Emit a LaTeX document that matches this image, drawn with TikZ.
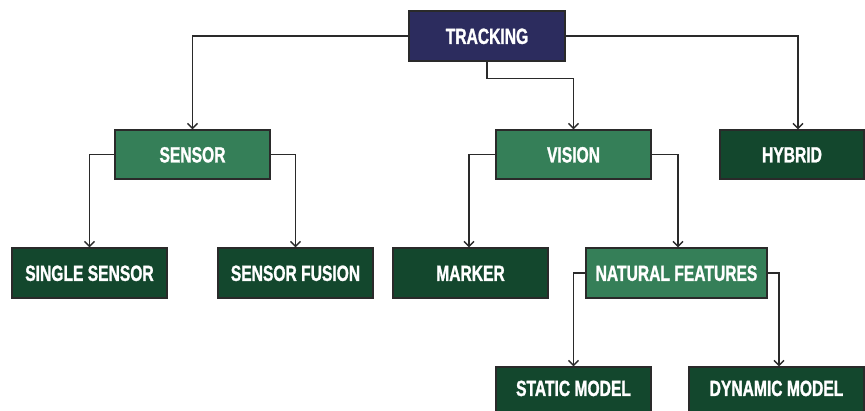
\documentclass[tikz,border=0pt]{standalone}
\usepackage{fontspec}
\newfontfamily\labelfont{Liberation Sans}[FakeStretch=0.71, BoldFeatures={FakeBold=1.2}]
\usetikzlibrary{arrows.meta}
\definecolor{navy}{HTML}{2C2C5E}
\definecolor{midgreen}{HTML}{357F58}
\definecolor{darkgreen}{HTML}{13472D}
\definecolor{edgegray}{HTML}{2A2A2A}
\begin{document}
\begin{tikzpicture}[x=1pt,y=-1pt,
  box/.style={draw=edgegray, line width=1.4pt, text=white, inner sep=0pt,
    text height=15.8pt, text depth=0pt,
    font=\labelfont\bfseries\fontsize{22}{24}\selectfont, minimum height=49pt},
  topbox/.style={box, fill=navy},
  midbox/.style={box, fill=midgreen},
  leafbox/.style={box, fill=darkgreen},
  arr/.style={draw=edgegray, line width=1.5pt, -{Straight Barb[length=5pt,width=10pt,line width=1.3pt]}}]
\useasboundingbox (0,0) rectangle (865,411);
\clip (0,0) rectangle (865,411);
\fill[white] (0,0) rectangle (865,411);
\node[topbox, minimum width=156pt, minimum height=50pt] (track) at (487,36) {TRACKING};
\node[midbox, minimum width=155pt] (sensor) at (192.5,154.5) {SENSOR};
\node[midbox, minimum width=155pt] (vision) at (573.5,154.5) {VISION};
\node[leafbox, minimum width=144pt] (hybrid) at (792,154.5) {HYBRID};
\node[leafbox, minimum width=155pt, minimum height=50pt] (single) at (89.5,273) {SINGLE SENSOR};
\node[leafbox, minimum width=155pt, minimum height=50pt] (fusion) at (295.5,273) {SENSOR FUSION};
\node[leafbox, minimum width=155pt, minimum height=50pt] (marker) at (470.5,273) {MARKER};
\node[midbox, minimum width=181pt, minimum height=50pt] (natural) at (676.5,273) {NATURAL FEATURES};
\node[leafbox, minimum width=155pt, minimum height=50pt, text depth=12pt, text height=20pt] (static) at (573.5,392) {STATIC MODEL};
\node[leafbox, minimum width=175pt, minimum height=50pt, text depth=12pt, text height=20pt] (dynamic) at (776.5,392) {DYNAMIC MODEL};
\coordinate (hybtop) at ([xshift=6pt]hybrid.north);
\coordinate (bend) at ([yshift=-17pt]track.south);
\draw[arr] (track.west) -| (sensor.north);
\draw[arr] (track.east) -| (hybtop);
\draw[arr] (track.south) -- (bend) -| (vision.north);
\draw[arr] (sensor.west) -| (single.north);
\draw[arr] (sensor.east) -| (fusion.north);
\draw[arr] (vision.west) -| ([xshift=-1.5pt]marker.north);
\draw[arr] (vision.east) -| ([xshift=1.5pt]natural.north);
\draw[arr] (natural.west) -| (static.north);
\draw[arr] (natural.east) -| ([xshift=2.5pt]dynamic.north);
\end{tikzpicture}
\end{document}
